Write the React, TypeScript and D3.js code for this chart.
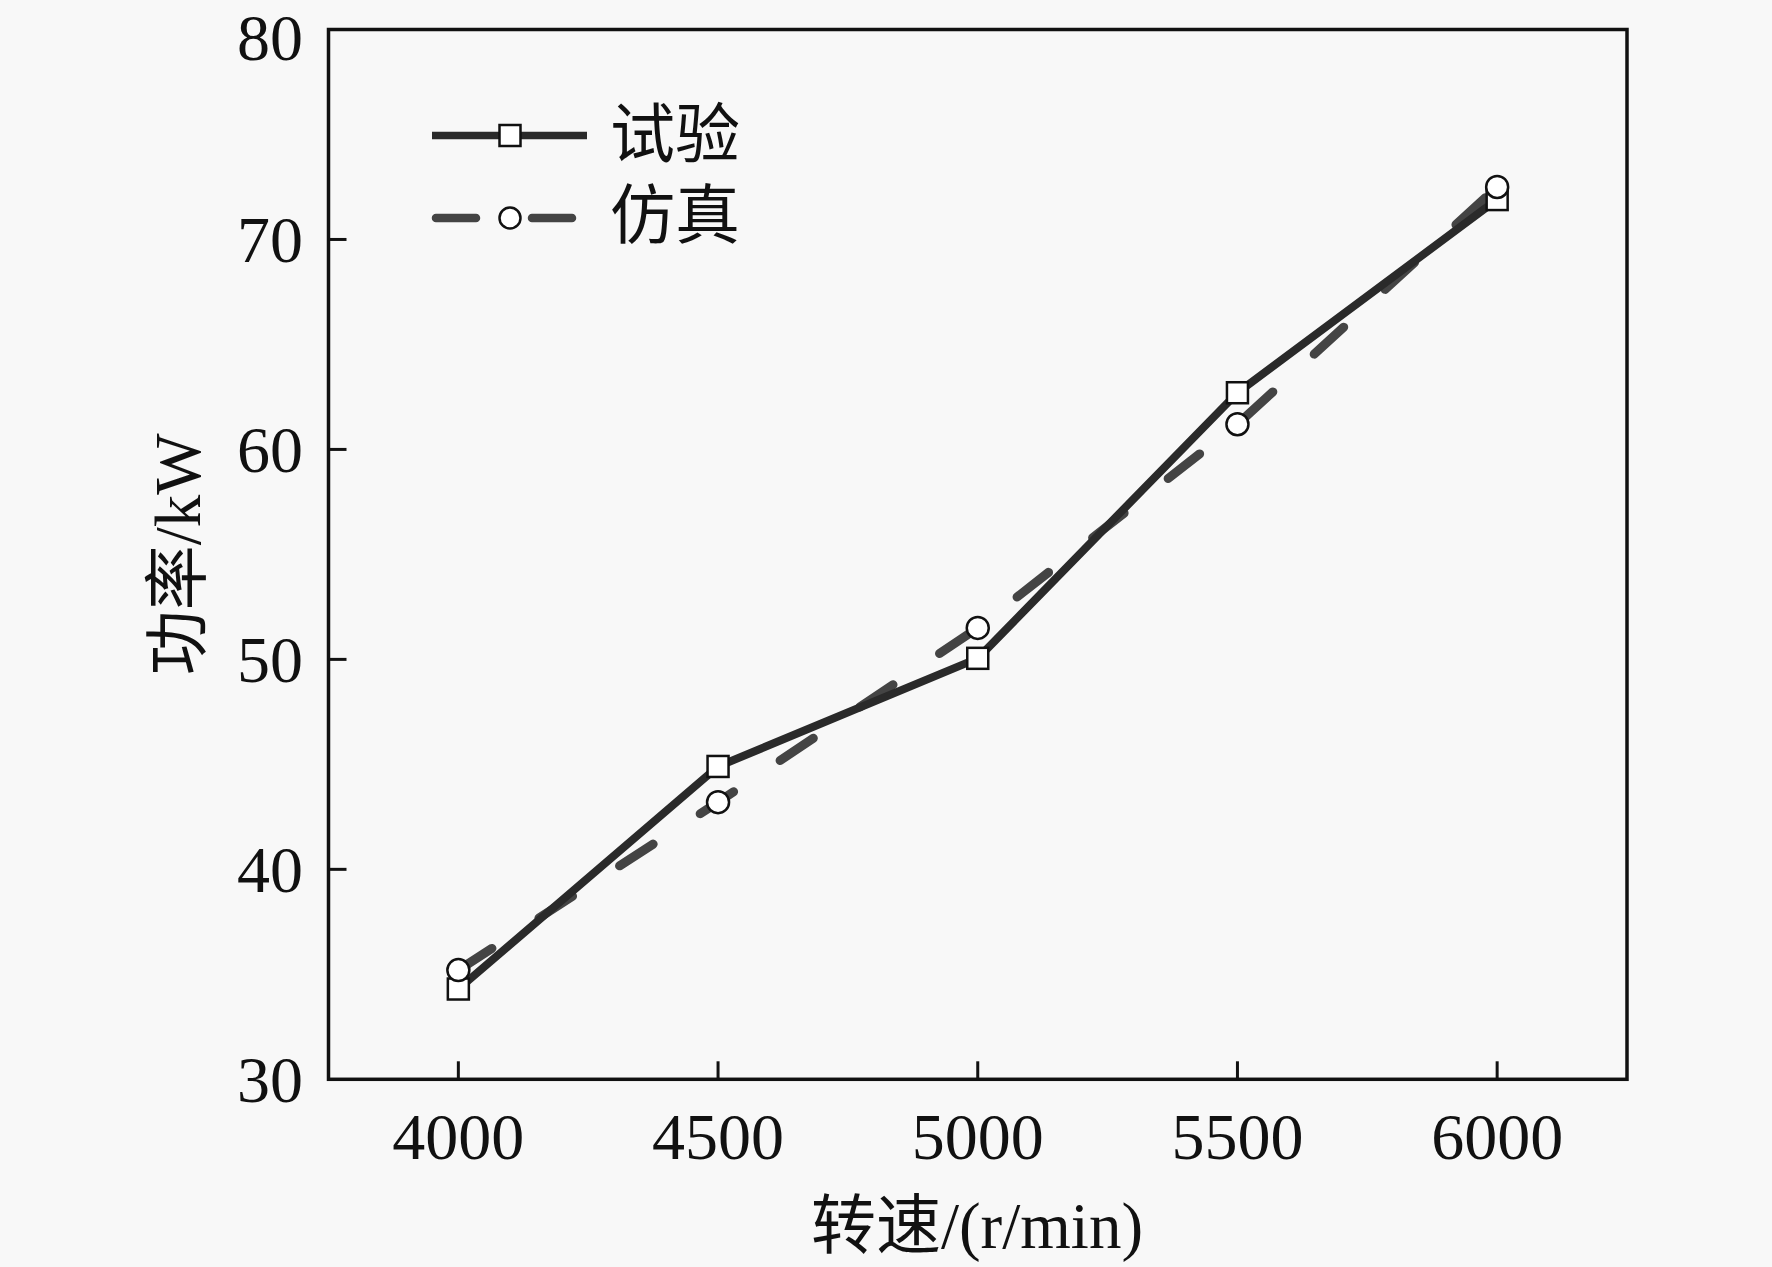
import React from "react";
import * as d3 from "d3";

const speeds = [4000, 4500, 5000, 5500, 6000];
const testPower = [34.3, 44.9, 50.05, 62.7, 71.9];
const simPower = [35.2, 43.2, 51.5, 61.2, 72.5];
const xTicks = [4000, 4500, 5000, 5500, 6000];
const yTicks = [30, 40, 50, 60, 70, 80];
const seriesNames = ["试验", "仿真"];
const xTitle = "转速/(r/min)";
const yTitle = "功率/kW";

const W = 1772;
const H = 1267;
const L = 328.5;
const R = 1627;
const T = 29.5;
const B = 1079.3;
const FONT = "'Liberation Serif', 'Times New Roman', 'Noto Sans CJK SC', serif";

export default function App() {
  const x = d3.scaleLinear().domain([3750, 6250]).range([L, R]);
  const y = d3.scaleLinear().domain([30, 80]).range([B, T]);
  const line = d3
    .line<number>()
    .x((_, i) => x(speeds[i]))
    .y((d) => y(d));
  const tickLen = 18;
  const bg = "#f8f8f8";

  return (
    <svg
      width={W}
      height={H}
      style={{ position: "fixed", left: 0, top: 0, background: bg }}
      fontFamily={FONT}
    >
      <rect x={0} y={0} width={W} height={H} fill={bg} />
      {/* series lines */}
      <path
        d={line(simPower) || ""}
        fill="none"
        stroke="#444"
        strokeWidth={9}
        strokeDasharray="40 56"
        strokeLinecap="round"
      />
      <path
        d={line(testPower) || ""}
        fill="none"
        stroke="#2a2a2a"
        strokeWidth={8}
        strokeLinejoin="round"
      />
      {testPower.map((v, i) => (
        <rect
          key={"s" + i}
          x={x(speeds[i]) - 10.5}
          y={y(v) - 10.5}
          width={21}
          height={21}
          fill="#ffffff"
          stroke="#111"
          strokeWidth={2.5}
        />
      ))}
      {simPower.map((v, i) => (
        <circle
          key={"c" + i}
          cx={x(speeds[i])}
          cy={y(v)}
          r={11}
          fill="#ffffff"
          stroke="#111"
          strokeWidth={2.5}
        />
      ))}
      {/* frame */}
      <rect x={L} y={T} width={R - L} height={B - T} fill="none" stroke="#111" strokeWidth={3.5} />
      {/* x ticks */}
      {xTicks.map((t) => (
        <g key={"xt" + t}>
          <line x1={x(t)} x2={x(t)} y1={B} y2={B - tickLen} stroke="#111" strokeWidth={3} />
          <text x={x(t)} y={1159} textAnchor="middle" fontSize={66} fill="#111">
            {t}
          </text>
        </g>
      ))}
      {/* y ticks */}
      {yTicks.map((t) => (
        <g key={"yt" + t}>
          {t !== 30 && t !== 80 && (
            <line x1={L} x2={L + tickLen} y1={y(t)} y2={y(t)} stroke="#111" strokeWidth={3} />
          )}
          <text
            x={303}
            y={t === 80 ? 60 : y(t) + 23}
            textAnchor="end"
            fontSize={66}
            fill="#111"
          >
            {t}
          </text>
        </g>
      ))}
      {/* axis titles */}
      <text x={977} y={1248} textAnchor="middle" fontSize={65} fill="#111">
        {xTitle}
      </text>
      <text
        transform={`translate(200, ${(T + B) / 2}) rotate(-90)`}
        textAnchor="middle"
        fontSize={65}
        fill="#111"
      >
        {yTitle}
      </text>
      {/* legend */}
      <g>
        <line x1={432} x2={587} y1={135.5} y2={135.5} stroke="#2a2a2a" strokeWidth={7.5} />
        <rect x={499.5} y={125} width={21} height={21} fill="#fff" stroke="#111" strokeWidth={2.5} />
        <text x={610} y={157} fontSize={65} fill="#111">
          {seriesNames[0]}
        </text>
        <line
          x1={436}
          x2={572}
          y1={218}
          y2={218}
          stroke="#444"
          strokeWidth={8.5}
          strokeDasharray="40 56"
          strokeLinecap="round"
        />
        <circle cx={510} cy={218} r={10.5} fill="#fff" stroke="#111" strokeWidth={2.5} />
        <text x={610} y={238} fontSize={65} fill="#111">
          {seriesNames[1]}
        </text>
      </g>
    </svg>
  );
}
